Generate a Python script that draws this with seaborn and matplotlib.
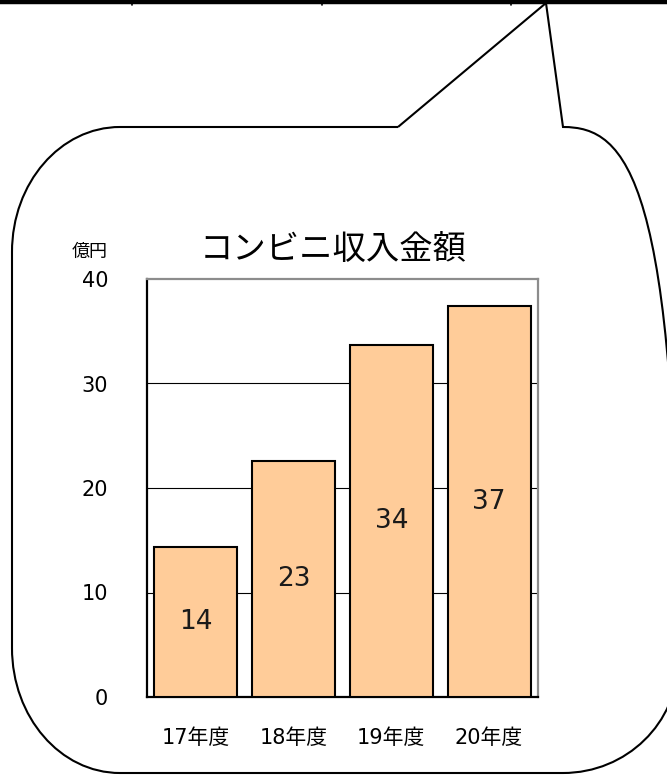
import matplotlib
matplotlib.use("Agg")
import matplotlib.pyplot as plt
from matplotlib.path import Path
from matplotlib.patches import PathPatch
from matplotlib.ticker import FixedLocator
import seaborn as sns

# data
years = ["17年度", "18年度", "19年度", "20年度"]
income = [14.4, 22.6, 33.7, 37.4]  # 億円
yticks = [0, 10, 20, 30, 40]
title = "コンビニ収入金額"
unit = "億円"

sns.set_style("white")
# DejaVu first for the wide digits, CJK for the kanji/kana
plt.rcParams["font.family"] = ["DejaVu Sans", "Noto Sans CJK JP"]

W, H = 667, 775
fig = plt.figure(figsize=(W / 100, H / 100), dpi=100)

# speech bubble drawn in pixel space
bg = fig.add_axes([0, 0, 1, 1])
bg.set_xlim(0, W)
bg.set_ylim(H, 0)
bg.axis("off")

L, R, T, B = 12, 678, 127, 773
rxl, rxr = 108, 115
ryl, ryr = 125, 112
k = 0.5523
verts = [
    (398, T),
    (L + rxl, T),
    (L + rxl - k * rxl, T), (L, T + ryl - k * ryl), (L, T + ryl),
    (L, B - ryl),
    (L, B - ryl + k * ryl), (L + rxl - k * rxl, B), (L + rxl, B),
    (R - rxr, B),
    (R - rxr + k * rxr, B), (R, B - ryr + k * ryr), (R, B - ryr),
    (R, T + ryr),
    (R, T + ryr - k * ryr), (R - rxr + k * rxr, T), (R - rxr, T),
    (546, 3),
    (398, T),
]
codes = [Path.MOVETO, Path.LINETO,
         Path.CURVE4, Path.CURVE4, Path.CURVE4,
         Path.LINETO,
         Path.CURVE4, Path.CURVE4, Path.CURVE4,
         Path.LINETO,
         Path.CURVE4, Path.CURVE4, Path.CURVE4,
         Path.LINETO,
         Path.CURVE4, Path.CURVE4, Path.CURVE4,
         Path.LINETO, Path.LINETO]
bg.add_patch(PathPatch(Path(verts, codes), facecolor="none",
                       edgecolor="black", lw=1.5, capstyle="butt",
                       joinstyle="miter"))

# thick rule across the top with small ticks
bg.plot([0, W], [2, 2], color="black", lw=3.2, solid_capstyle="butt")
for tx in [132, 322, 511]:
    bg.plot([tx, tx], [0, 4.5], color="black", lw=1.2)

# the chart itself
ax = fig.add_axes([147 / W, 1 - 697 / H, 391 / W, 418 / H])
ax.set_facecolor("white")
sns.barplot(x=years, y=income, color="#FFCC99", edgecolor="black",
            linewidth=1.5, width=0.85, saturation=1, ax=ax, zorder=3)

ax.set_ylim(0, 40)
ax.set_xlim(-0.5, len(years) - 0.5)
ax.set_yticks(yticks)
ax.set_yticklabels([str(t) for t in yticks], fontsize=15)
ax.tick_params(axis="y", direction="in", length=6, width=1, pad=28,
               color="black", labelcolor="black")
ax.tick_params(axis="x", which="major", length=0, pad=22, labelsize=15,
               labelcolor="black")
ax.xaxis.set_minor_locator(FixedLocator([0.5, 1.5, 2.5]))
ax.tick_params(axis="x", which="minor", direction="in", length=7, width=1,
               color="black")
ax.set_xlabel("")
ax.set_ylabel("")

for t in yticks[1:-1]:
    ax.axhline(t, color="black", lw=0.8, zorder=1)

for side in ["left", "bottom"]:
    ax.spines[side].set_color("black")
    ax.spines[side].set_linewidth(1.6)
for side in ["top", "right"]:
    ax.spines[side].set_color("#8c8c8c")
    ax.spines[side].set_linewidth(1.6)

for i, v in enumerate(income):
    ax.text(i, v / 2, f"{round(v)}", ha="center", va="center",
            fontsize=19, color="#1a1a1a", zorder=4)

fig.text(333 / W, 1 - 249 / H, title, ha="center", va="center",
         fontsize=24, color="black", family=["Noto Sans CJK JP"])
fig.text(90 / W, 1 - 252 / H, unit, ha="center", va="center",
         fontsize=13, color="black", family=["Noto Sans CJK JP"])

fig.savefig("out.png", dpi=100)
